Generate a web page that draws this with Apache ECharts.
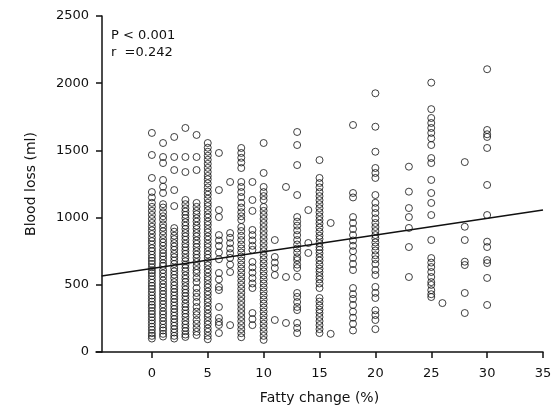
<!DOCTYPE html>
<html>
<head>
<meta charset="utf-8">
<script src="https://cdn.jsdelivr.net/npm/echarts@6/dist/echarts.min.js"></script>
<style>
  html, body { margin: 0; padding: 0; background: #fff; }
  #chart { width: 557px; height: 411px; }
</style>
</head>
<body>
<div id="chart"></div>
<script>
// Fatty change (%) levels and blood loss (ml) observed at each level
const fattyLevels = [0, 1, 2, 3, 4, 5, 6, 7, 8, 9, 10, 11, 12, 13, 14, 15, 16, 18, 20, 23, 25, 26, 28, 30];

const loss0 = [1630, 1466, 1295, 1190, 1150, 1110, 1080, 1050, 1020, 990, 960, 932, 905, 878, 850, 825, 800, 772, 750, 724, 700, 678, 655, 630, 608, 588, 565, 540, 515, 492, 470, 445, 420, 398, 375, 350, 330, 305, 282, 258, 235, 212, 188, 165, 140, 120, 100];
const loss1 = [1555, 1451, 1406, 1280, 1230, 1183, 1100, 1075, 1040, 1010, 985, 950, 925, 898, 870, 840, 815, 790, 760, 735, 712, 688, 660, 640, 610, 585, 560, 532, 505, 480, 455, 430, 405, 380, 355, 330, 302, 280, 255, 230, 205, 180, 160, 135, 115];
const loss2 = [1600, 1451, 1354, 1205, 1086, 922, 895, 865, 840, 810, 785, 760, 730, 705, 680, 655, 625, 600, 575, 550, 520, 495, 470, 445, 420, 395, 370, 345, 320, 295, 270, 245, 220, 195, 170, 145, 120, 100];
const loss3 = [1667, 1451, 1339, 1131, 1100, 1070, 1045, 1020, 995, 965, 940, 915, 885, 860, 835, 805, 780, 755, 730, 700, 675, 650, 625, 600, 570, 545, 520, 490, 465, 440, 415, 390, 360, 335, 310, 285, 260, 230, 205, 180, 155, 130, 112];
const loss4 = [1615, 1451, 1354, 1109, 1080, 1050, 1025, 995, 970, 940, 915, 885, 860, 830, 805, 780, 750, 725, 700, 670, 640, 610, 588, 551, 520, 476, 439, 410, 372, 335, 300, 275, 238, 210, 179, 150, 126];
const loss5 = [1555, 1520, 1490, 1460, 1430, 1400, 1370, 1340, 1310, 1285, 1255, 1225, 1195, 1170, 1140, 1110, 1085, 1055, 1025, 1000, 970, 945, 915, 890, 860, 835, 805, 780, 750, 725, 700, 670, 645, 615, 590, 560, 535, 505, 480, 450, 425, 395, 370, 340, 315, 285, 260, 230, 205, 175, 150, 120, 95];
const loss6 = [1481, 1205, 1056, 1004, 870, 830, 790, 740, 690, 588, 540, 484, 461, 335, 253, 223, 201, 141];
const loss7 = [1265, 885, 850, 810, 770, 735, 700, 650, 595, 200];
const loss8 = [1518, 1481, 1445, 1410, 1369, 1265, 1228, 1190, 1153, 1109, 1075, 1040, 1010, 982, 930, 900, 865, 833, 800, 770, 740, 710, 680, 650, 620, 590, 560, 530, 500, 470, 440, 410, 380, 350, 320, 290, 260, 230, 200, 170, 140, 110];
const loss9 = [1265, 1131, 1050, 908, 870, 830, 790, 760, 670, 630, 590, 550, 510, 476, 290, 245, 200];
const loss10 = [1555, 1332, 1228, 1190, 1160, 1131, 1079, 1050, 1020, 990, 960, 930, 900, 870, 840, 810, 780, 750, 720, 690, 660, 630, 600, 570, 540, 510, 480, 450, 420, 390, 360, 330, 300, 270, 240, 210, 180, 150, 120, 90];
const loss11 = [833, 707, 665, 625, 573, 238];
const loss12 = [1228, 558, 216];
const loss13 = [1637, 1540, 1391, 1168, 1004, 970, 940, 905, 870, 833, 800, 770, 740, 705, 684, 650, 625, 560, 439, 410, 372, 335, 312, 216, 179, 141];
const loss14 = [1056, 811, 737];
const loss15 = [1428, 1295, 1257, 1225, 1190, 1160, 1130, 1100, 1070, 1040, 1010, 982, 955, 925, 895, 865, 840, 810, 781, 760, 735, 705, 680, 650, 620, 595, 565, 540, 510, 476, 402, 375, 345, 315, 290, 260, 230, 200, 170, 141];
const loss16 = [960, 135];
const loss18 = [1689, 1183, 1150, 1004, 960, 915, 870, 830, 790, 750, 700, 655, 610, 476, 430, 395, 350, 300, 255, 210, 160];
const loss20 = [1925, 1676, 1490, 1369, 1332, 1295, 1168, 1110, 1071, 1034, 995, 960, 930, 900, 870, 845, 815, 785, 755, 720, 690, 655, 610, 573, 484, 440, 402, 310, 275, 238, 170];
const loss23 = [1379, 1193, 1071, 1004, 923, 781, 558];
const loss25 = [2004, 1807, 1741, 1704, 1667, 1630, 1590, 1540, 1443, 1406, 1280, 1183, 1109, 1019, 833, 699, 665, 632, 595, 558, 520, 499, 460, 430, 409];
const loss26 = [364];
const loss28 = [1413, 932, 833, 672, 647, 439, 290];
const loss30 = [2104, 1652, 1620, 1600, 1518, 1243, 1019, 821, 781, 684, 662, 551, 350];

const lossByLevel = [loss0, loss1, loss2, loss3, loss4, loss5, loss6, loss7, loss8, loss9, loss10, loss11, loss12, loss13, loss14, loss15, loss16, loss18, loss20, loss23, loss25, loss26, loss28, loss30];

// Regression line end points [fatty change, blood loss]
const regressionLine = [[-4.5, 565], [35, 1056]];

// Axis ticks
const xTicks = [0, 5, 10, 15, 20, 25, 30, 35];
const yTicks = [0, 500, 1000, 1500, 2000, 2500];

const statsText = ['P < 0.001', 'r  =0.242'];

const points = [];
fattyLevels.forEach((lvl, i) => {
  lossByLevel[i].forEach(v => points.push([lvl, v]));
});

const FONT = 'DejaVu Sans';
const chart = echarts.init(document.getElementById('chart'), null, { renderer: 'canvas' });
chart.setOption({
  animation: false,
  backgroundColor: '#ffffff',
  grid: { left: 96, right: 14, top: 16, bottom: 59, containLabel: false },
  xAxis: {
    type: 'value',
    min: -5, max: 35,
    name: 'Fatty change (%)',
    nameLocation: 'middle',
    nameGap: 39,
    nameTextStyle: { fontFamily: FONT, fontSize: 14, color: '#111' },
    axisLine: { show: true, onZero: false, lineStyle: { color: '#111', width: 1.5 } },
    axisTick: { show: true, length: 6, customValues: xTicks, lineStyle: { color: '#111', width: 1.5 } },
    axisLabel: { customValues: xTicks, margin: 15, fontFamily: FONT, fontSize: 13, color: '#111' },
    splitLine: { show: false }
  },
  yAxis: {
    type: 'value',
    min: 0, max: 2500, interval: 500,
    offset: -6,
    name: 'Blood loss (ml)',
    nameLocation: 'middle',
    nameGap: 64,
    nameRotate: 90,
    nameTextStyle: { fontFamily: FONT, fontSize: 14, color: '#111' },
    axisLine: { show: true, onZero: false, lineStyle: { color: '#111', width: 1.5 } },
    axisTick: { show: true, length: 6, customValues: yTicks, lineStyle: { color: '#111', width: 1.5 } },
    axisLabel: { customValues: yTicks, margin: 13, fontFamily: FONT, fontSize: 13, color: '#111', formatter: v => String(v) },
    splitLine: { show: false }
  },
  graphic: [{
    type: 'text',
    left: 111, top: 27,
    style: { text: statsText.join('\n'), font: '13px "DejaVu Sans"', fill: '#111', lineHeight: 17 }
  }],
  series: [{
    type: 'scatter',
    data: points,
    symbol: 'circle',
    symbolSize: 7,
    itemStyle: { color: 'rgba(0,0,0,0)', borderColor: '#111', borderWidth: 1 },
    z: 2
  }, {
    type: 'line',
    data: regressionLine,
    showSymbol: false,
    symbol: 'none',
    lineStyle: { color: '#111', width: 1.5 },
    z: 3
  }]
});
</script>
</body>
</html>
